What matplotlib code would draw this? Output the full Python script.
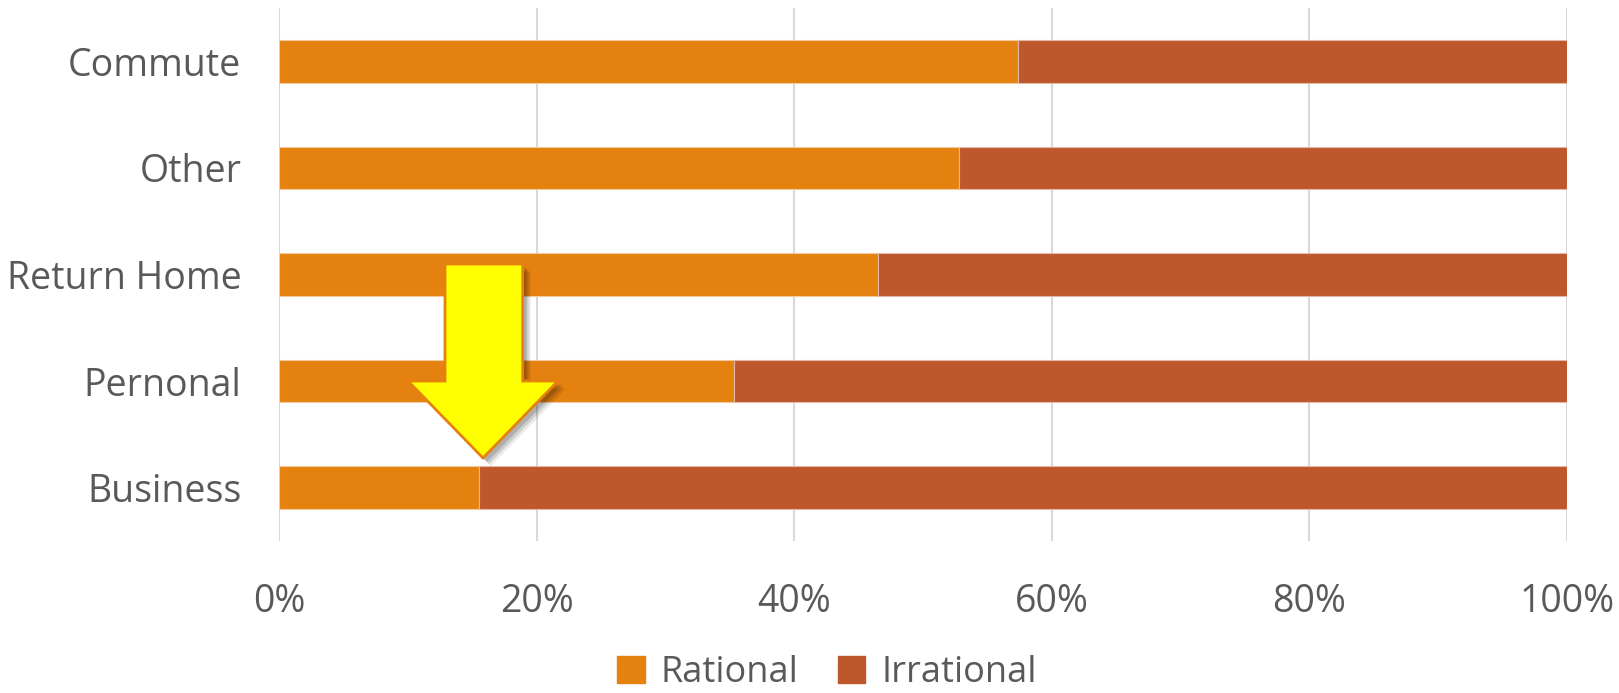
import matplotlib
matplotlib.use("Agg")
import matplotlib.pyplot as plt
from matplotlib.patches import Polygon, Patch
from matplotlib.ticker import PercentFormatter

categories = ["Business", "Pernonal", "Return Home", "Other", "Commute"]
rational = [15.5, 35.3, 46.5, 52.8, 57.4]
irrational = [100 - v for v in rational]
xticks = [0, 20, 40, 60, 80, 100]

c_rat = "#E5820F"
c_irr = "#BE582C"
txt = "#595959"

plt.rcParams['font.family'] = ['Open Sans', 'DejaVu Sans']

fig = plt.figure(figsize=(16.19, 6.93), dpi=100)
ax = fig.add_axes([0.1723, 0.2193, 0.9678 - 0.1723, 0.9885 - 0.2193])

ypos = list(range(len(categories)))
ax.barh(ypos, rational, height=0.4, color=c_rat, edgecolor="#F3C9A0", linewidth=0.8, zorder=3)
ax.barh(ypos, irrational, left=rational, height=0.4, color=c_irr, edgecolor="#E2B8A8", linewidth=0.8, zorder=3)

ax.set_xlim(0, 100)
ax.set_ylim(-0.5, len(categories) - 0.5)
ax.set_xticks(xticks)
ax.xaxis.set_major_formatter(PercentFormatter(decimals=0))
ax.set_yticks(ypos)
ax.set_yticklabels(categories)
ax.tick_params(axis='both', length=0, labelsize=27, colors=txt)
ax.tick_params(axis='x', pad=30)
ax.tick_params(axis='y', pad=27)
ax.grid(axis='x', color="#D9D9D9", linewidth=1.5, zorder=0)
for s in ax.spines.values():
    s.set_visible(False)

handles = [Patch(color=c_rat, label="Rational"), Patch(color=c_irr, label="Irrational")]
leg = fig.legend(handles=handles, loc='center', bbox_to_anchor=(0.511, 1 - 673 / 693),
                 ncol=2, frameon=False, fontsize=26, handlelength=0.75, handleheight=0.75,
                 handletextpad=0.45, columnspacing=1.1)
for t in leg.get_texts():
    t.set_color(txt)

# Yellow arrow annotation (figure pixel coordinates, y from top)
H = 693
pts = [(445, 264), (522.7, 264), (522.7, 381), (558, 381), (483, 458), (408, 381), (445, 381)]
pts_fig = [(x, H - y) for x, y in pts]
for off, a in [(8, 0.08), (6, 0.12), (4, 0.15)]:
    shadow = Polygon([(x + off, y - off) for x, y in pts_fig], closed=True, transform=None,
                     facecolor="#000000", alpha=a, edgecolor="none", zorder=10)
    fig.patches.append(shadow)
arrow = Polygon(pts_fig, closed=True, transform=None,
                facecolor="#FFFF00", edgecolor="#E5820F", linewidth=2, zorder=11)
fig.patches.append(arrow)

fig.savefig("out.png", dpi=100)
